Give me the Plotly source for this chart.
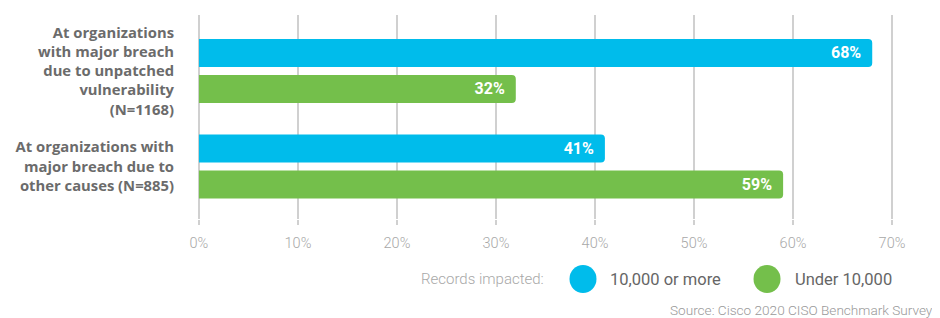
import plotly.graph_objects as go

categories = [
    "At organizations<br>with major breach<br>due to unpatched<br>vulnerability<br>(N=1168)",
    "At organizations with<br>major breach due to<br>other causes (N=885)",
]
series_names = ["10,000 or more", "Under 10,000"]
values_10k_plus = [68, 41]
values_under_10k = [32, 59]
x_ticks = [0, 10, 20, 30, 40, 50, 60, 70]
x_tick_labels = ["0%", "10%", "20%", "30%", "40%", "50%", "60%", "70%"]

BLUE = "#00BCEB"
GREEN = "#74BF4B"
FONT = "Roboto"

# page has an 8px body margin: figure origin sits at page (8, 8)
OFF = 8
W, H = 940 - OFF, 318 - OFF
# x range padded slightly so the 0% gridline is drawn inside the plot area
XMIN, XMAX = -0.5, 70.3
X0_PX, X70_PX = 199, 892
scale = (X70_PX - X0_PX) / 70.0
PL = X0_PX + XMIN * scale
PR = X70_PX + (XMAX - 70) * scale
PT, PB = 15, 219
L, R, T, B = PL - OFF, (W + OFF) - PR, PT - OFF, (H + OFF) - PB
pw, ph = PR - PL, PB - PT


def px_x(px):
    return (px - PL) / pw


def px_y(py):
    return (PB - py) / ph


fig = go.Figure()
for name, vals, col in [(series_names[0], values_10k_plus, BLUE),
                        (series_names[1], values_under_10k, GREEN)]:
    fig.add_trace(go.Bar(
        y=categories, x=vals, name=name, orientation="h",
        marker=dict(color=col, line=dict(width=0)),
        texttemplate="%{x}%\u00a0\u00a0",
        textposition="inside", insidetextanchor="end", textangle=0,
        insidetextfont=dict(family=FONT, size=16, color="white", weight=700),
        hoverinfo="skip",
    ))

fig.update_layout(
    width=W, height=H,
    margin=dict(l=L, r=R, t=T, b=B, pad=0),
    paper_bgcolor="white", plot_bgcolor="white",
    barmode="group", bargap=0.246, bargroupgap=0.223,
    barcornerradius=4,
    showlegend=False,
    font=dict(family=FONT),
    xaxis=dict(
        range=[XMIN, XMAX], tickvals=x_ticks, ticktext=x_tick_labels,
        showgrid=True, gridcolor="#d0d0d0", gridwidth=1.5,
        zeroline=False, showline=False,
        ticks="outside", ticklen=5, tickcolor="#d0d0d0", tickwidth=1.5,
        tickfont=dict(family=FONT, size=14.5, color="#a8a8a8", weight=300),
        ticklabelstandoff=6,
    ),
    yaxis=dict(
        categoryorder="array", categoryarray=categories,
        range=[1.55, -0.586],
        showgrid=False, zeroline=False, showline=False, ticks="",
        tickfont=dict(family="Open Sans", size=14.8, color="#6b6b6b", weight=700),
        ticklabelstandoff=int(round(24 - (X0_PX - PL))),
    ),
)

# custom legend (large circle swatches)
leg_y = 279
for cx, col in [(583, BLUE), (767, GREEN)]:
    fig.add_shape(type="circle", xref="paper", yref="paper",
                  xsizemode="pixel", ysizemode="pixel",
                  xanchor=px_x(cx), yanchor=px_y(leg_y),
                  x0=-13.5, x1=13.5, y0=-14, y1=14,
                  fillcolor=col, line=dict(width=0))

fig.add_annotation(text="Records impacted:", xref="paper", yref="paper",
                   x=px_x(546), y=px_y(leg_y), xanchor="right", yanchor="middle",
                   showarrow=False, font=dict(family=FONT, size=15, color="#a8a8a8", weight=300))
fig.add_annotation(text=series_names[0], xref="paper", yref="paper",
                   x=px_x(608), y=px_y(leg_y), xanchor="left", yanchor="middle",
                   showarrow=False, font=dict(family=FONT, size=16.5, color="#666666"))
fig.add_annotation(text=series_names[1], xref="paper", yref="paper",
                   x=px_x(793), y=px_y(leg_y), xanchor="left", yanchor="middle",
                   showarrow=False, font=dict(family=FONT, size=16.5, color="#666666"))
fig.add_annotation(text="Source: Cisco 2020 CISO Benchmark Survey", xref="paper", yref="paper",
                   x=px_x(935), y=px_y(310), xanchor="right", yanchor="middle",
                   showarrow=False, font=dict(family=FONT, size=13.6, color="#999999", weight=300))

fig.write_html("out.html")
